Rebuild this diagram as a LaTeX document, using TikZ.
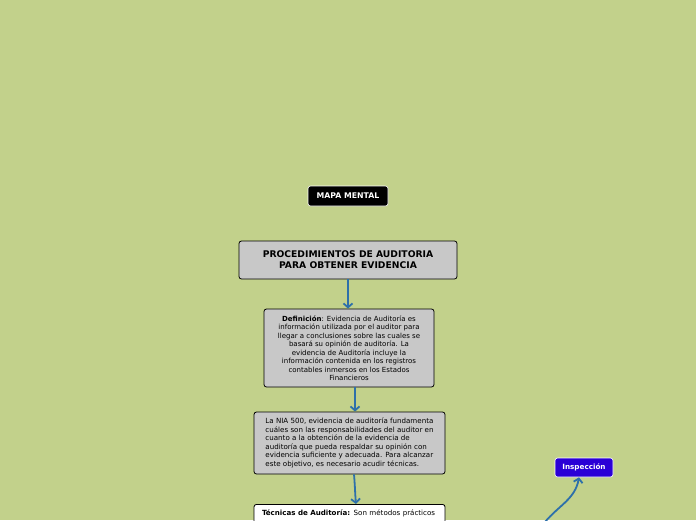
\documentclass[tikz,border=0pt]{standalone}
\usepackage{fontspec}
\setmainfont{DejaVu Sans}
\usepackage{xcolor}
\usetikzlibrary{shapes,arrows,arrows.meta,positioning,calc}
\definecolor{fondo}{RGB}{194,209,139}
\definecolor{cajagris}{RGB}{200,200,200}
\definecolor{flecha}{RGB}{45,112,170}
\definecolor{azulinsp}{RGB}{42,0,214}

\begin{document}
\begin{tikzpicture}[x=1pt, y=-1pt,
    caja/.style={draw, rectangle, rounded corners=2.5pt, line width=0.8pt, fill=cajagris, inner sep=0pt},
    etiqueta/.style={draw=white, rectangle, rounded corners=2.5pt, line width=0.6pt, text=white},
    conector/.style={draw=flecha, line width=1.8pt, -{Straight Barb[length=4pt, width=9pt]}}]
\fill[fondo] (0,0) rectangle (696,520);
\useasboundingbox (0,0) rectangle (696,520);

\node[etiqueta, fill=black, minimum width=80pt, minimum height=20pt, font=\fontsize{7.8}{9}\selectfont\bfseries] (mapa) at (348,196) {MAPA MENTAL};
\node[caja, minimum width=218pt, minimum height=38pt, align=center, font=\fontsize{9.2}{11}\selectfont\bfseries] (proc) at (348,260) {PROCEDIMIENTOS DE AUDITORIA\\PARA OBTENER EVIDENCIA};
\node[caja, minimum width=170pt, minimum height=78pt, align=center, font=\fontsize{7}{8.5}\selectfont] (defin) at (349,348) {
    \textbf{Definición}: Evidencia de Auditoría es\\
    información utilizada por el auditor para\\
    llegar a conclusiones sobre las cuales se\\
    basará su opinión de auditoría. La\\
    evidencia de Auditoría incluye la\\
    información contenida en los registros\\
    contables inmersos en los Estados\\
    Financieros};
\node[caja, minimum width=191pt, minimum height=62pt, align=left, font=\fontsize{7.1}{8.5}\selectfont] (nia) at (349.5,443) {
    La NIA 500, evidencia de auditoría fundamenta\\
    cuáles son las responsabilidades del auditor en\\
    cuanto a la obtención de la evidencia de\\
    auditoría que pueda respaldar su opinión con\\
    evidencia suficiente y adecuada. Para alcanzar\\
    este objetivo, es necesario acudir técnicas.};
\node[caja, fill=white, minimum width=191pt, anchor=north, inner xsep=8pt, inner ysep=5.5pt, text width=175pt, text depth=30pt, align=left, font=\fontsize{7.1}{8.5}\selectfont] (tecnicas) at (349.5,504) {\textbf{Técnicas de Auditoría:} Son métodos prácticos};
\node[etiqueta, fill=azulinsp, minimum width=58pt, minimum height=19pt, font=\fontsize{7.2}{9}\selectfont\bfseries] (insp) at (584,467.5) {Inspección};
\coordinate (origen) at (545,522);

\draw[conector] (proc.south) -- (defin.north -| proc.south);
\draw[conector] ($(defin.south)+(6,0)$) -- ($(nia.north)+(5.5,0)$);
\draw[conector] ($(nia.south)+(4.5,0)$) to[out=-85, in=95] ($(tecnicas.north)+(6.5,0)$);
\draw[conector] (origen) to[out=50, in=-100] ($(insp.south)+(-5,0)$);
\end{tikzpicture}
\end{document}
